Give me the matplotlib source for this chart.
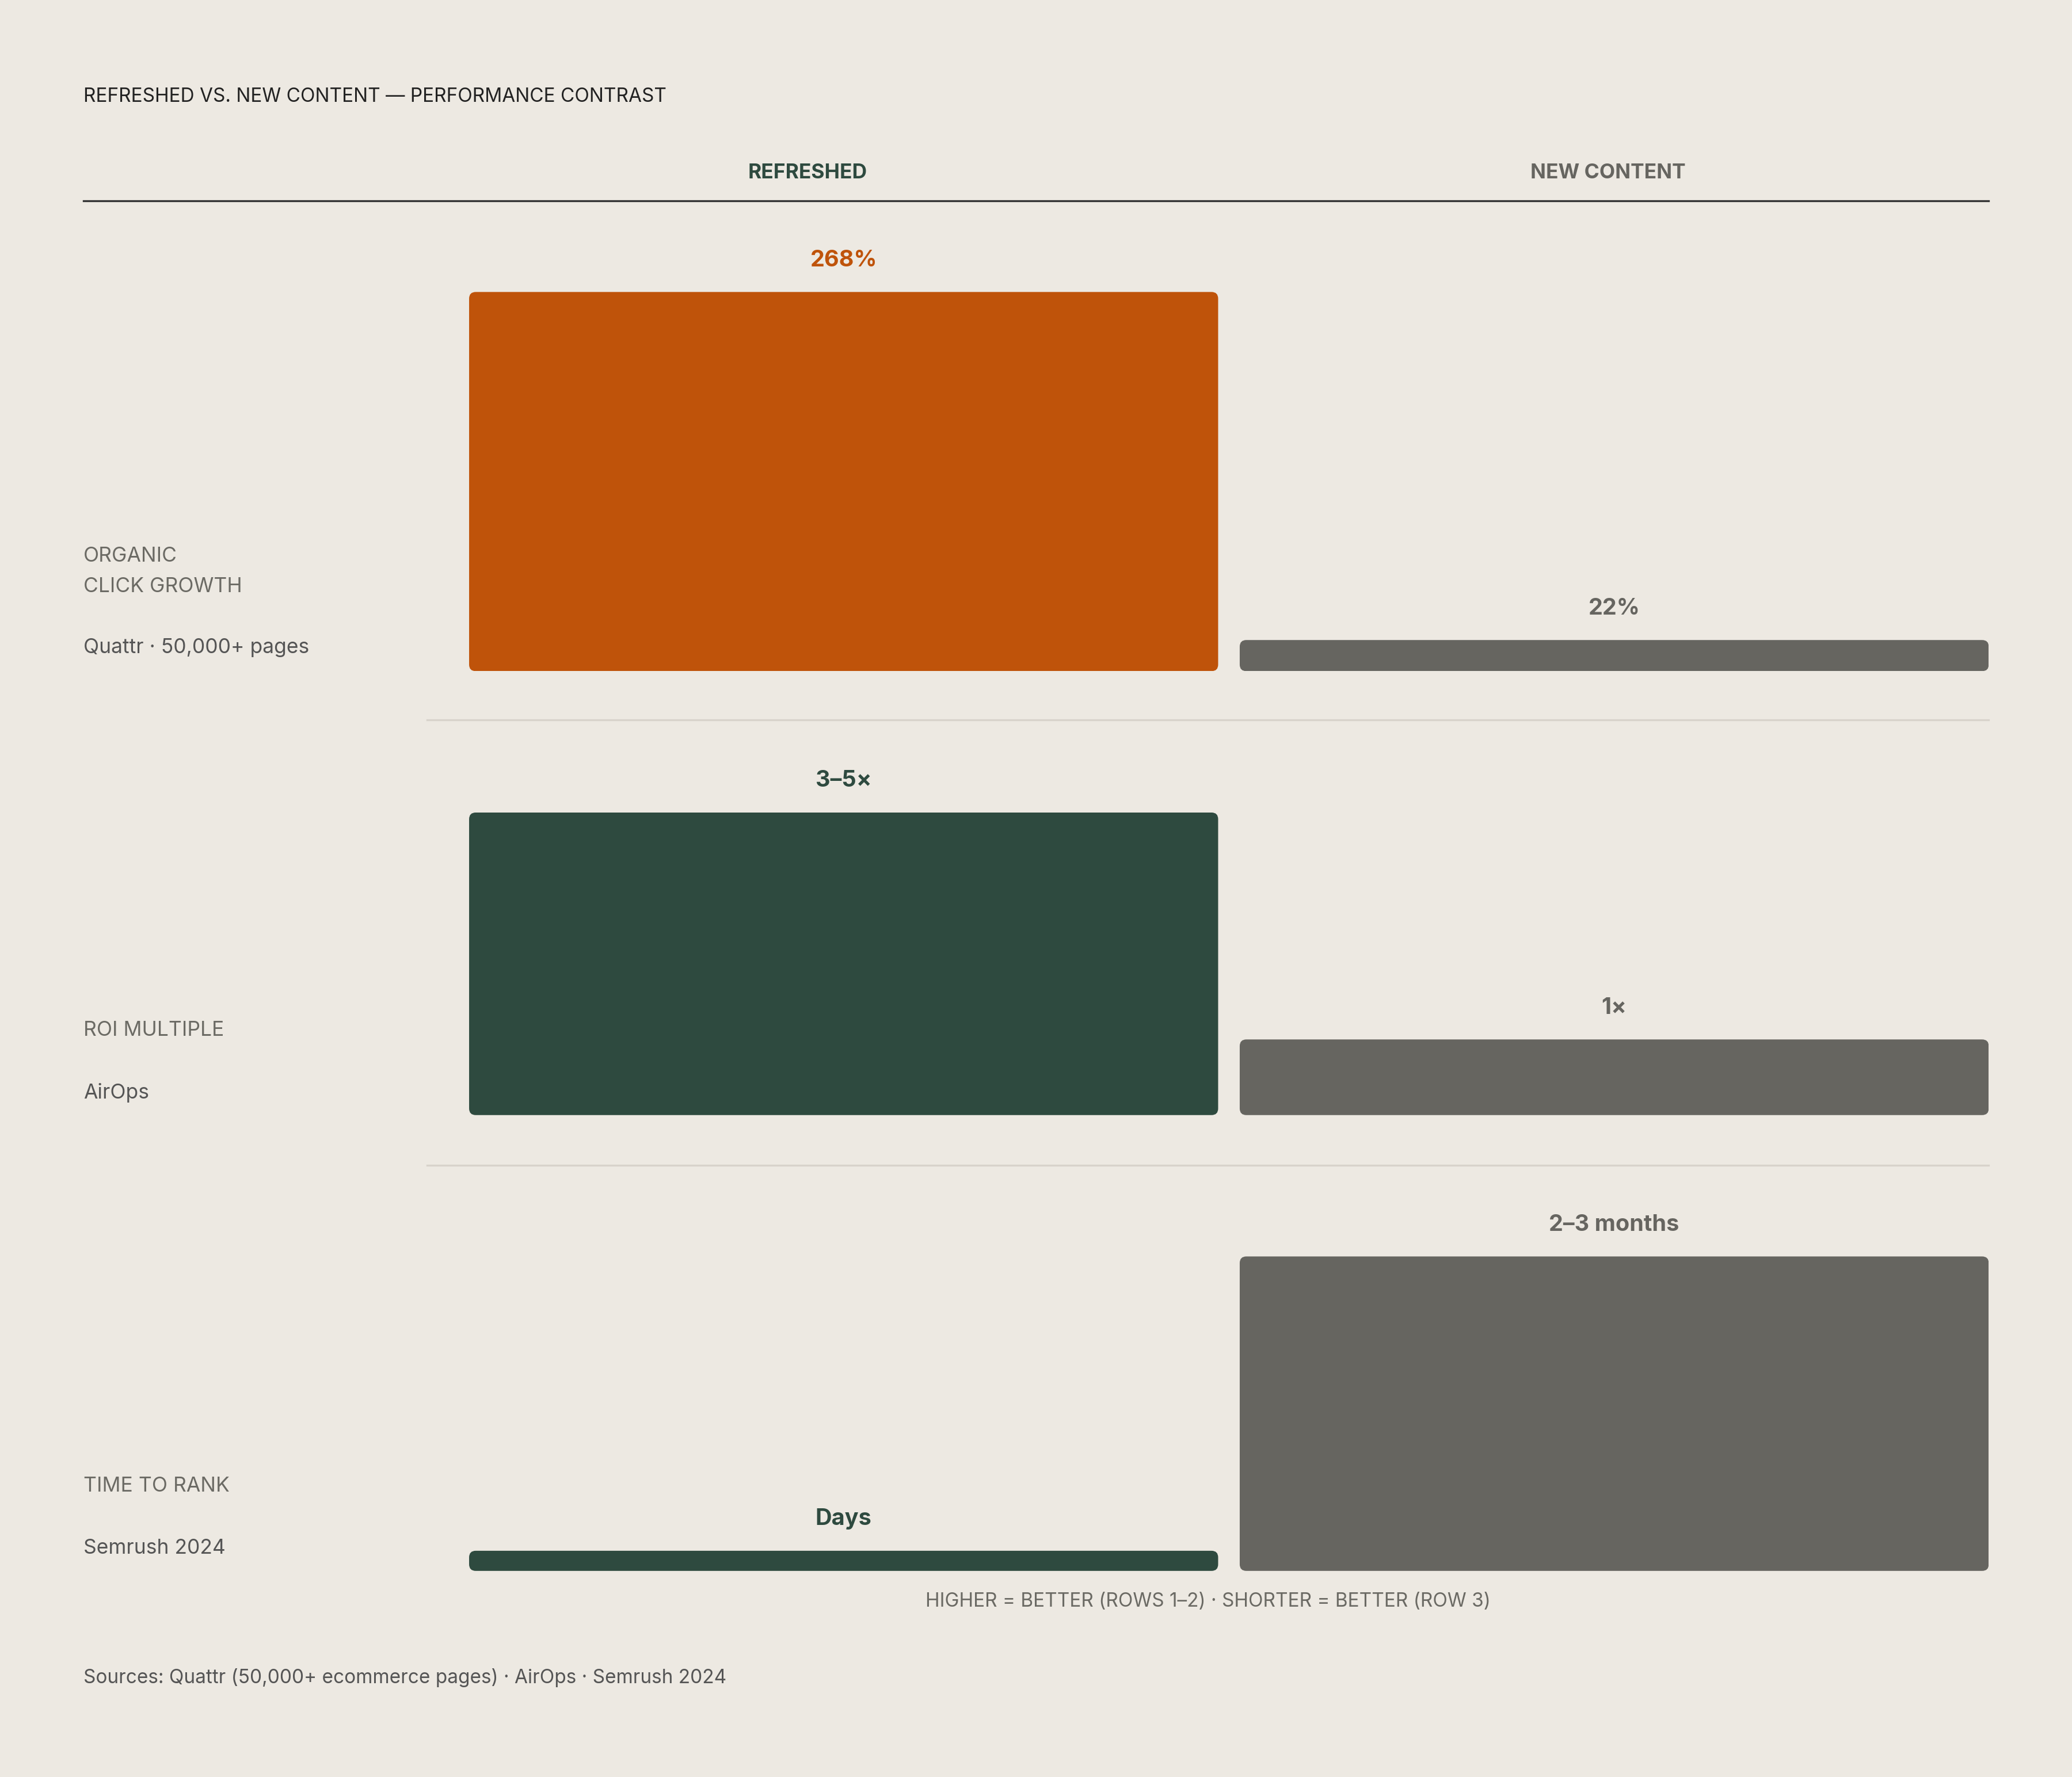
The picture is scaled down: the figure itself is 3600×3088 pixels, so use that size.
import matplotlib
matplotlib.use("Agg")
import matplotlib.pyplot as plt
from matplotlib.patches import FancyBboxPatch

W, H = 1568, 1345
BG = "#EDE9E2"; ORANGE = "#BF530A"; GREEN = "#2E4A3F"; GRAY = "#666560"; TXT = "#6B6A64"
plt.rcParams['font.family'] = ['Inter', 'DejaVu Sans']

columns = ["REFRESHED", "NEW CONTENT"]
row_titles = ["ORGANIC\nCLICK GROWTH", "ROI MULTIPLE", "TIME TO RANK"]
row_sources = ["Quattr · 50,000+ pages", "AirOps", "Semrush 2024"]
refreshed_vals = [268, 4, 0.16]
new_vals = [22, 1, 2.5]
refreshed_labels = ["268%", "3–5×", "Days"]
new_labels = ["22%", "1×", "2–3 months"]
refreshed_colors = [ORANGE, GREEN, GREEN]

fig = plt.figure(figsize=(12, 12*H/W), dpi=300)
fig.patch.set_facecolor(BG)
def fx(x): return x / W
def fy(y): return 1 - y / H

fig.text(fx(63), fy(73), "REFRESHED VS. NEW CONTENT — PERFORMANCE CONTRAST", fontsize=8, color="#222", va="center")
fig.text(fx(611), fy(131), columns[0], fontsize=8.5, color=GREEN, weight="bold", ha="center", va="center")
fig.text(fx(1217), fy(131), columns[1], fontsize=8.5, color=GRAY, weight="bold", ha="center", va="center")
fig.add_artist(plt.Line2D([fx(63), fx(1505)], [fy(152)]*2, color="#333", lw=0.8))
for y in [545, 882]:
    fig.add_artist(plt.Line2D([fx(323), fx(1505)], [fy(y)]*2, color="#D8D3CB", lw=0.8))

rows = [(508, 221, 268, (421, 490)), (844, 615, 4, (780, 827)), (1189, 951, 2.5, (1125, 1172))]
x0, x1 = 355, 1505
for i, (bot, top, ymax, (ty, sy)) in enumerate(rows):
    ax = fig.add_axes([fx(x0), fy(bot), fx(x1 - x0), (bot - top) / H])
    ax.set_xlim(-0.486, 1.486); ax.set_ylim(0, ymax)
    ax.axis("off")
    xpp = 1.972 / (x1 - x0); ypp = ymax / (bot - top)
    r = 5 * xpp
    vals = [refreshed_vals[i], new_vals[i]]
    cols = [refreshed_colors[i], GRAY]
    labs = [refreshed_labels[i], new_labels[i]]
    for j in range(2):
        p = FancyBboxPatch((j - 0.486, 0), 0.972, vals[j],
                           boxstyle=f"round,pad=0,rounding_size={r}",
                           mutation_aspect=ypp / xpp, fc=cols[j], ec="none")
        ax.add_patch(p)
        ax.text(j, vals[j] + 24 * ypp, labs[j], ha="center", va="center", fontsize=9.5,
                weight="bold", color=cols[j] if j == 0 else GRAY, clip_on=False)
    tl = row_titles[i].split("\n")
    for k, t in enumerate(tl):
        fig.text(fx(63), fy(ty + 23 * k), t, fontsize=8.5, color=TXT, va="center")
    fig.text(fx(63), fy(sy), row_sources[i], fontsize=8.5, color="#555", va="center")

fig.text(fx(914), fy(1212), "HIGHER = BETTER (ROWS 1–2) · SHORTER = BETTER (ROW 3)", fontsize=8, color=TXT, ha="center", va="center")
fig.text(fx(63), fy(1270), "Sources: Quattr (50,000+ ecommerce pages) · AirOps · Semrush 2024", fontsize=8, color="#555", va="center")
fig.savefig("out.png", facecolor=BG)
